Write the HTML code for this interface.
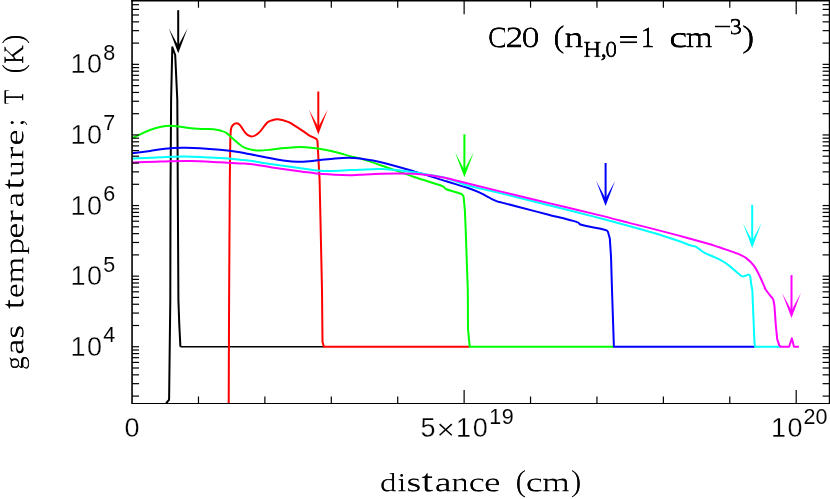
<!DOCTYPE html>
<html><head><meta charset="utf-8"><title>C20 gas temperature</title>
<style>
html,body{margin:0;padding:0;background:#fff;}
body{width:830px;height:499px;position:relative;overflow:hidden;font-family:"Liberation Sans",sans-serif;color:#000;}
svg{display:block}
text{white-space:pre}
</style></head><body>
<svg width="830" height="499" viewBox="0 0 830 499" style="position:absolute;left:0;top:0">
<rect x="0" y="0" width="830" height="499" fill="#fff"/>
<path d="M180.40 346.80 L324.00 346.80" fill="none" stroke="#000" stroke-width="1.6" stroke-linejoin="round" stroke-linecap="butt"/>
<path d="M166.00 403.50 L167.30 401.80 L168.80 400.30 L169.10 399.00 L170.30 300.00 L170.50 195.00 L171.10 100.00 L172.30 47.20 L175.20 55.00 L177.30 100.00 L178.40 300.00 L179.30 325.00 L180.40 346.80" fill="none" stroke="#000" stroke-width="2.0" stroke-linejoin="round" stroke-linecap="butt"/>
<path d="M228.70 403.50 L229.10 300.00 L229.80 180.00 L230.30 140.00 M230.30 140.00 C230.42 138.17 230.55 131.50 231.00 129.00 C231.45 126.50 232.05 125.95 233.00 125.00 C233.95 124.05 235.53 123.27 236.70 123.30 C237.87 123.33 238.62 123.68 240.00 125.20 C241.38 126.72 243.68 130.73 245.00 132.40 C246.32 134.07 246.82 134.52 247.90 135.20 C248.98 135.88 250.30 136.45 251.50 136.50 C252.70 136.55 253.68 136.32 255.10 135.50 C256.52 134.68 257.97 133.75 260.00 131.60 C262.03 129.45 265.28 124.48 267.30 122.60 C269.32 120.72 270.37 120.85 272.10 120.30 C273.83 119.75 275.03 119.03 277.70 119.30 C280.37 119.57 285.55 121.02 288.10 121.90 C290.65 122.78 290.32 122.95 293.00 124.60 C295.68 126.25 301.53 130.00 304.20 131.80 C306.87 133.60 307.13 134.32 309.00 135.40 C310.87 136.48 314.00 137.52 315.40 138.30 C316.80 139.08 317.07 139.80 317.40 140.10 M317.40 140.10 L319.60 180.00 L322.00 290.00 L322.50 342.00 L323.90 346.80 L469.70 346.80" fill="none" stroke="#f00" stroke-width="2.0" stroke-linejoin="round" stroke-linecap="butt"/>
<path d="M132.00 138.20 C133.33 137.58 137.00 135.87 140.00 134.50 C143.00 133.13 146.67 131.25 150.00 130.00 C153.33 128.75 156.67 127.72 160.00 127.00 C163.33 126.28 166.33 125.70 170.00 125.70 C173.67 125.70 178.00 126.52 182.00 127.00 C186.00 127.48 190.17 128.27 194.00 128.60 C197.83 128.93 201.77 128.90 205.00 129.00 C208.23 129.10 210.90 128.95 213.40 129.20 C215.90 129.45 217.85 129.88 220.00 130.50 C222.15 131.12 223.92 131.32 226.30 132.90 C228.68 134.48 231.63 137.73 234.30 140.00 C236.97 142.27 239.68 144.93 242.30 146.50 C244.92 148.07 247.17 148.72 250.00 149.40 C252.83 150.08 255.63 150.58 259.30 150.60 C262.97 150.62 267.72 149.93 272.00 149.50 C276.28 149.07 280.17 148.43 285.00 148.00 C289.83 147.57 295.50 146.82 301.00 146.90 C306.50 146.98 312.12 147.62 318.00 148.50 C323.88 149.38 330.97 150.93 336.30 152.20 C341.63 153.47 346.05 155.07 350.00 156.10 C353.95 157.13 354.65 156.80 360.00 158.40 C365.35 160.00 373.07 162.60 382.10 165.70 C391.13 168.80 404.30 173.65 414.20 177.00 C424.10 180.35 436.15 183.75 441.50 185.80 C446.85 187.85 443.17 188.02 446.30 189.30 C449.43 190.58 457.42 192.32 460.30 193.50 C463.18 194.68 463.05 195.92 463.60 196.40 M463.60 196.40 L464.90 211.00 L465.70 230.00 L467.80 290.00 L468.00 329.00 L469.70 346.80 L614.00 346.80" fill="none" stroke="#0f0" stroke-width="2.0" stroke-linejoin="round" stroke-linecap="butt"/>
<path d="M132.00 153.30 C135.00 152.90 144.50 151.65 150.00 150.90 C155.50 150.15 159.50 149.32 165.00 148.80 C170.50 148.28 177.17 147.90 183.00 147.80 C188.83 147.70 193.83 147.87 200.00 148.20 C206.17 148.53 213.33 149.12 220.00 149.80 C226.67 150.48 235.15 151.60 240.00 152.30 C244.85 153.00 243.57 152.92 249.10 154.00 C254.63 155.08 267.18 157.67 273.20 158.80 C279.22 159.93 281.18 160.30 285.20 160.80 C289.22 161.30 293.28 161.72 297.30 161.80 C301.32 161.88 305.52 161.58 309.30 161.30 C313.08 161.02 315.72 160.58 320.00 160.10 C324.28 159.62 330.18 158.80 335.00 158.40 C339.82 158.00 344.73 157.67 348.90 157.70 C353.07 157.73 354.48 157.80 360.00 158.60 C365.52 159.40 373.00 160.37 382.00 162.50 C391.00 164.63 403.28 168.27 414.00 171.40 C424.72 174.53 437.42 178.58 446.30 181.30 C455.18 184.02 461.80 185.85 467.30 187.70 C472.80 189.55 474.73 190.28 479.30 192.40 C483.87 194.52 490.92 198.70 494.70 200.40 C498.48 202.10 498.15 201.55 502.00 202.60 C505.85 203.65 510.35 204.77 517.80 206.70 C525.25 208.63 537.05 211.72 546.70 214.20 C556.35 216.68 570.07 219.88 575.70 221.60 C581.33 223.32 578.12 223.63 580.50 224.50 C582.88 225.37 585.98 225.92 590.00 226.80 C594.02 227.68 601.63 229.05 604.60 229.80 C607.57 230.55 607.27 231.05 607.80 231.30 M607.80 231.30 L609.80 238.50 L611.00 256.20 L611.70 280.00 L612.00 290.00 L613.90 346.80 L755.00 346.80" fill="none" stroke="#00f" stroke-width="2.0" stroke-linejoin="round" stroke-linecap="butt"/>
<path d="M132.00 158.60 C136.67 158.37 151.17 157.55 160.00 157.20 C168.83 156.85 175.00 156.37 185.00 156.50 C195.00 156.63 210.83 157.47 220.00 158.00 C229.17 158.53 235.00 159.25 240.00 159.70 C245.00 160.15 244.67 159.95 250.00 160.70 C255.33 161.45 263.50 162.95 272.00 164.20 C280.50 165.45 292.42 167.08 301.00 168.20 C309.58 169.32 315.33 170.58 323.50 170.90 C331.67 171.22 343.92 170.28 350.00 170.10 C356.08 169.92 354.67 169.98 360.00 169.80 C365.33 169.62 373.00 168.60 382.00 169.00 C391.00 169.40 404.33 170.90 414.00 172.20 C423.67 173.50 434.67 175.83 440.00 176.80 C445.33 177.77 441.50 176.60 446.00 178.00 C450.50 179.40 458.00 182.68 467.00 185.20 C476.00 187.72 486.17 189.72 500.00 193.10 C513.83 196.48 535.00 201.75 550.00 205.50 C565.00 209.25 576.67 212.15 590.00 215.60 C603.33 219.05 619.33 223.30 630.00 226.20 C640.67 229.10 646.00 230.57 654.00 233.00 C662.00 235.43 671.97 238.75 678.00 240.80 C684.03 242.85 687.35 244.37 690.20 245.30 C693.05 246.23 693.68 245.83 695.10 246.40 C696.52 246.97 697.10 247.62 698.70 248.70 C700.30 249.78 702.10 251.50 704.70 252.90 C707.30 254.30 711.08 255.58 714.30 257.10 C717.52 258.62 721.35 260.42 724.00 262.00 C726.65 263.58 727.33 264.30 730.20 266.60 C733.07 268.90 738.70 274.27 741.20 275.80 C743.70 277.33 743.97 276.00 745.20 275.80 C746.43 275.60 747.77 274.53 748.60 274.60 C749.43 274.67 749.93 275.93 750.20 276.20 M750.20 276.20 L751.20 284.20 L752.30 290.00 L754.50 343.00 L755.00 346.80 L781.00 346.80" fill="none" stroke="#0ff" stroke-width="2.0" stroke-linejoin="round" stroke-linecap="butt"/>
<path d="M132.00 162.60 C136.67 162.42 150.33 161.77 160.00 161.50 C169.67 161.23 180.00 160.87 190.00 161.00 C200.00 161.13 211.67 161.90 220.00 162.30 C228.33 162.70 235.00 163.13 240.00 163.40 C245.00 163.67 244.67 163.23 250.00 163.90 C255.33 164.57 263.50 166.15 272.00 167.40 C280.50 168.65 292.50 170.28 301.00 171.40 C309.50 172.52 314.83 173.47 323.00 174.10 C331.17 174.73 343.83 175.08 350.00 175.20 C356.17 175.32 354.67 175.03 360.00 174.80 C365.33 174.57 373.00 173.97 382.00 173.80 C391.00 173.63 406.00 173.55 414.00 173.80 C422.00 174.05 425.67 174.77 430.00 175.30 C434.33 175.83 437.33 176.55 440.00 177.00 C442.67 177.45 441.50 176.97 446.00 178.00 C450.50 179.03 458.00 180.97 467.00 183.20 C476.00 185.43 486.17 188.03 500.00 191.40 C513.83 194.77 533.33 199.40 550.00 203.40 C566.67 207.40 586.67 212.12 600.00 215.40 C613.33 218.68 621.00 220.82 630.00 223.10 C639.00 225.38 646.00 227.05 654.00 229.10 C662.00 231.15 670.00 233.25 678.00 235.40 C686.00 237.55 695.95 240.30 702.00 242.00 C708.05 243.70 710.63 244.45 714.30 245.60 C717.97 246.75 720.35 247.65 724.00 248.90 C727.65 250.15 732.50 251.57 736.20 253.10 C739.90 254.63 743.20 255.92 746.20 258.10 C749.20 260.28 751.87 263.02 754.20 266.20 C756.53 269.38 758.53 273.87 760.20 277.20 C761.87 280.53 763.23 284.07 764.20 286.20 C765.17 288.33 764.65 288.00 766.00 290.00 C767.35 292.00 771.07 296.53 772.30 298.20 C773.53 299.87 773.22 299.70 773.40 300.00 M773.40 300.00 L774.40 305.40 L775.80 325.00 L777.20 339.10 L779.30 345.40 L780.70 346.80 L789.10 346.80 L791.90 338.40 L794.00 346.80 L798.90 346.80" fill="none" stroke="#f0f" stroke-width="2.0" stroke-linejoin="round" stroke-linecap="butt"/>
<g transform="translate(178.20 53.20)" fill="#000" stroke="none"><rect x="-1" y="-43" width="2" height="38"/><path d="M0 0 L-9.4 -25 L0 -7.5 L9.4 -25 Z"/></g>
<g transform="translate(318.30 134.50)" fill="#f00" stroke="none"><rect x="-1" y="-43" width="2" height="38"/><path d="M0 0 L-9.4 -25 L0 -7.5 L9.4 -25 Z"/></g>
<g transform="translate(464.40 177.30)" fill="#0f0" stroke="none"><rect x="-1" y="-43" width="2" height="38"/><path d="M0 0 L-9.4 -25 L0 -7.5 L9.4 -25 Z"/></g>
<g transform="translate(605.60 206.00)" fill="#00f" stroke="none"><rect x="-1" y="-43" width="2" height="38"/><path d="M0 0 L-9.4 -25 L0 -7.5 L9.4 -25 Z"/></g>
<g transform="translate(752.20 247.90)" fill="#0ff" stroke="none"><rect x="-1" y="-43" width="2" height="38"/><path d="M0 0 L-9.4 -25 L0 -7.5 L9.4 -25 Z"/></g>
<g transform="translate(791.50 318.10)" fill="#f0f" stroke="none"><rect x="-1" y="-43" width="2" height="38"/><path d="M0 0 L-9.4 -25 L0 -7.5 L9.4 -25 Z"/></g>
<g stroke="#000" stroke-width="1.6" fill="none"><line x1="132.05" y1="0" x2="132.05" y2="403.50"/><line x1="829.60" y1="0" x2="829.60" y2="403.50"/><line x1="131.30" y1="0.70" x2="830" y2="0.70"/></g>
<line x1="131.30" y1="403.50" x2="830" y2="403.50" stroke="#000" stroke-width="1.2"/>
<g stroke="#000" stroke-width="1.2" fill="none"><line x1="198.47" y1="403.50" x2="198.47" y2="396.50"/><line x1="198.47" y1="0" x2="198.47" y2="7.70"/><line x1="264.88" y1="403.50" x2="264.88" y2="396.50"/><line x1="264.88" y1="0" x2="264.88" y2="7.70"/><line x1="331.30" y1="403.50" x2="331.30" y2="396.50"/><line x1="331.30" y1="0" x2="331.30" y2="7.70"/><line x1="397.71" y1="403.50" x2="397.71" y2="396.50"/><line x1="397.71" y1="0" x2="397.71" y2="7.70"/><line x1="464.13" y1="403.50" x2="464.13" y2="390.00"/><line x1="464.13" y1="0" x2="464.13" y2="14.20"/><line x1="530.54" y1="403.50" x2="530.54" y2="396.50"/><line x1="530.54" y1="0" x2="530.54" y2="7.70"/><line x1="596.96" y1="403.50" x2="596.96" y2="396.50"/><line x1="596.96" y1="0" x2="596.96" y2="7.70"/><line x1="663.37" y1="403.50" x2="663.37" y2="396.50"/><line x1="663.37" y1="0" x2="663.37" y2="7.70"/><line x1="729.79" y1="403.50" x2="729.79" y2="396.50"/><line x1="729.79" y1="0" x2="729.79" y2="7.70"/><line x1="796.20" y1="403.50" x2="796.20" y2="390.00"/><line x1="796.20" y1="0" x2="796.20" y2="14.20"/><line x1="132.05" y1="396.10" x2="139.05" y2="396.10"/><line x1="829.60" y1="396.10" x2="822.60" y2="396.10"/><line x1="132.05" y1="383.67" x2="139.05" y2="383.67"/><line x1="829.60" y1="383.67" x2="822.60" y2="383.67"/><line x1="132.05" y1="374.84" x2="139.05" y2="374.84"/><line x1="829.60" y1="374.84" x2="822.60" y2="374.84"/><line x1="132.05" y1="368.00" x2="139.05" y2="368.00"/><line x1="829.60" y1="368.00" x2="822.60" y2="368.00"/><line x1="132.05" y1="362.41" x2="139.05" y2="362.41"/><line x1="829.60" y1="362.41" x2="822.60" y2="362.41"/><line x1="132.05" y1="357.69" x2="139.05" y2="357.69"/><line x1="829.60" y1="357.69" x2="822.60" y2="357.69"/><line x1="132.05" y1="353.59" x2="139.05" y2="353.59"/><line x1="829.60" y1="353.59" x2="822.60" y2="353.59"/><line x1="132.05" y1="349.98" x2="139.05" y2="349.98"/><line x1="829.60" y1="349.98" x2="822.60" y2="349.98"/><line x1="132.05" y1="346.75" x2="139.05" y2="346.75"/><line x1="829.60" y1="346.75" x2="822.60" y2="346.75"/><line x1="132.05" y1="325.50" x2="139.05" y2="325.50"/><line x1="829.60" y1="325.50" x2="822.60" y2="325.50"/><line x1="132.05" y1="313.07" x2="139.05" y2="313.07"/><line x1="829.60" y1="313.07" x2="822.60" y2="313.07"/><line x1="132.05" y1="304.24" x2="139.05" y2="304.24"/><line x1="829.60" y1="304.24" x2="822.60" y2="304.24"/><line x1="132.05" y1="297.40" x2="139.05" y2="297.40"/><line x1="829.60" y1="297.40" x2="822.60" y2="297.40"/><line x1="132.05" y1="291.81" x2="139.05" y2="291.81"/><line x1="829.60" y1="291.81" x2="822.60" y2="291.81"/><line x1="132.05" y1="287.09" x2="139.05" y2="287.09"/><line x1="829.60" y1="287.09" x2="822.60" y2="287.09"/><line x1="132.05" y1="282.99" x2="139.05" y2="282.99"/><line x1="829.60" y1="282.99" x2="822.60" y2="282.99"/><line x1="132.05" y1="279.38" x2="139.05" y2="279.38"/><line x1="829.60" y1="279.38" x2="822.60" y2="279.38"/><line x1="132.05" y1="276.15" x2="139.05" y2="276.15"/><line x1="829.60" y1="276.15" x2="822.60" y2="276.15"/><line x1="132.05" y1="254.90" x2="139.05" y2="254.90"/><line x1="829.60" y1="254.90" x2="822.60" y2="254.90"/><line x1="132.05" y1="242.47" x2="139.05" y2="242.47"/><line x1="829.60" y1="242.47" x2="822.60" y2="242.47"/><line x1="132.05" y1="233.64" x2="139.05" y2="233.64"/><line x1="829.60" y1="233.64" x2="822.60" y2="233.64"/><line x1="132.05" y1="226.80" x2="139.05" y2="226.80"/><line x1="829.60" y1="226.80" x2="822.60" y2="226.80"/><line x1="132.05" y1="221.21" x2="139.05" y2="221.21"/><line x1="829.60" y1="221.21" x2="822.60" y2="221.21"/><line x1="132.05" y1="216.49" x2="139.05" y2="216.49"/><line x1="829.60" y1="216.49" x2="822.60" y2="216.49"/><line x1="132.05" y1="212.39" x2="139.05" y2="212.39"/><line x1="829.60" y1="212.39" x2="822.60" y2="212.39"/><line x1="132.05" y1="208.78" x2="139.05" y2="208.78"/><line x1="829.60" y1="208.78" x2="822.60" y2="208.78"/><line x1="132.05" y1="205.55" x2="139.05" y2="205.55"/><line x1="829.60" y1="205.55" x2="822.60" y2="205.55"/><line x1="132.05" y1="184.30" x2="139.05" y2="184.30"/><line x1="829.60" y1="184.30" x2="822.60" y2="184.30"/><line x1="132.05" y1="171.87" x2="139.05" y2="171.87"/><line x1="829.60" y1="171.87" x2="822.60" y2="171.87"/><line x1="132.05" y1="163.04" x2="139.05" y2="163.04"/><line x1="829.60" y1="163.04" x2="822.60" y2="163.04"/><line x1="132.05" y1="156.20" x2="139.05" y2="156.20"/><line x1="829.60" y1="156.20" x2="822.60" y2="156.20"/><line x1="132.05" y1="150.61" x2="139.05" y2="150.61"/><line x1="829.60" y1="150.61" x2="822.60" y2="150.61"/><line x1="132.05" y1="145.89" x2="139.05" y2="145.89"/><line x1="829.60" y1="145.89" x2="822.60" y2="145.89"/><line x1="132.05" y1="141.79" x2="139.05" y2="141.79"/><line x1="829.60" y1="141.79" x2="822.60" y2="141.79"/><line x1="132.05" y1="138.18" x2="139.05" y2="138.18"/><line x1="829.60" y1="138.18" x2="822.60" y2="138.18"/><line x1="132.05" y1="134.95" x2="139.05" y2="134.95"/><line x1="829.60" y1="134.95" x2="822.60" y2="134.95"/><line x1="132.05" y1="113.70" x2="139.05" y2="113.70"/><line x1="829.60" y1="113.70" x2="822.60" y2="113.70"/><line x1="132.05" y1="101.27" x2="139.05" y2="101.27"/><line x1="829.60" y1="101.27" x2="822.60" y2="101.27"/><line x1="132.05" y1="92.44" x2="139.05" y2="92.44"/><line x1="829.60" y1="92.44" x2="822.60" y2="92.44"/><line x1="132.05" y1="85.60" x2="139.05" y2="85.60"/><line x1="829.60" y1="85.60" x2="822.60" y2="85.60"/><line x1="132.05" y1="80.01" x2="139.05" y2="80.01"/><line x1="829.60" y1="80.01" x2="822.60" y2="80.01"/><line x1="132.05" y1="75.29" x2="139.05" y2="75.29"/><line x1="829.60" y1="75.29" x2="822.60" y2="75.29"/><line x1="132.05" y1="71.19" x2="139.05" y2="71.19"/><line x1="829.60" y1="71.19" x2="822.60" y2="71.19"/><line x1="132.05" y1="67.58" x2="139.05" y2="67.58"/><line x1="829.60" y1="67.58" x2="822.60" y2="67.58"/><line x1="132.05" y1="64.35" x2="139.05" y2="64.35"/><line x1="829.60" y1="64.35" x2="822.60" y2="64.35"/><line x1="132.05" y1="43.10" x2="139.05" y2="43.10"/><line x1="829.60" y1="43.10" x2="822.60" y2="43.10"/><line x1="132.05" y1="30.67" x2="139.05" y2="30.67"/><line x1="829.60" y1="30.67" x2="822.60" y2="30.67"/><line x1="132.05" y1="21.84" x2="139.05" y2="21.84"/><line x1="829.60" y1="21.84" x2="822.60" y2="21.84"/><line x1="132.05" y1="15.00" x2="139.05" y2="15.00"/><line x1="829.60" y1="15.00" x2="822.60" y2="15.00"/><line x1="132.05" y1="9.41" x2="139.05" y2="9.41"/><line x1="829.60" y1="9.41" x2="822.60" y2="9.41"/><line x1="132.05" y1="4.69" x2="139.05" y2="4.69"/><line x1="829.60" y1="4.69" x2="822.60" y2="4.69"/></g>
<g fill="#000" opacity="0.999" font-family="Liberation Serif"><text x="78.00 94.45" y="355.75" font-family="Liberation Sans" font-size="27" text-anchor="middle" stroke="#fff" stroke-width="0.3">10</text>
<text x="109.30" y="342.15" font-family="Liberation Sans" font-size="21.5" text-anchor="middle" stroke="#fff" stroke-width="0.05">4</text>
<text x="78.00 94.45" y="285.15" font-family="Liberation Sans" font-size="27" text-anchor="middle" stroke="#fff" stroke-width="0.3">10</text>
<text x="109.30" y="271.55" font-family="Liberation Sans" font-size="21.5" text-anchor="middle" stroke="#fff" stroke-width="0.05">5</text>
<text x="78.00 94.45" y="214.55" font-family="Liberation Sans" font-size="27" text-anchor="middle" stroke="#fff" stroke-width="0.3">10</text>
<text x="109.30" y="200.95" font-family="Liberation Sans" font-size="21.5" text-anchor="middle" stroke="#fff" stroke-width="0.05">6</text>
<text x="78.00 94.45" y="143.95" font-family="Liberation Sans" font-size="27" text-anchor="middle" stroke="#fff" stroke-width="0.3">10</text>
<text x="109.30" y="130.35" font-family="Liberation Sans" font-size="21.5" text-anchor="middle" stroke="#fff" stroke-width="0.05">7</text>
<text x="78.00 94.45" y="73.35" font-family="Liberation Sans" font-size="27" text-anchor="middle" stroke="#fff" stroke-width="0.3">10</text>
<text x="109.30" y="59.75" font-family="Liberation Sans" font-size="21.5" text-anchor="middle" stroke="#fff" stroke-width="0.05">8</text>
<text x="132.10" y="437.00" font-family="Liberation Sans" font-size="27" text-anchor="middle" stroke="#fff" stroke-width="0.3">0</text>
<text x="427.90 463.40 480.20" y="437.00" font-family="Liberation Sans" font-size="27" text-anchor="middle" stroke="#fff" stroke-width="0.3">510</text>
<path d="M439.6 424.1 L451.8 435.3 M451.8 424.1 L439.6 435.3" stroke="#000" stroke-width="1.5" fill="none"/>
<text x="495.20 507.70" y="423.70" font-family="Liberation Sans" font-size="21.5" text-anchor="middle" stroke="#fff" stroke-width="0.05">19</text>
<text x="778.50 795.00" y="437.00" font-family="Liberation Sans" font-size="27" text-anchor="middle" stroke="#fff" stroke-width="0.3">10</text>
<text x="809.60 821.50" y="423.70" font-family="Liberation Sans" font-size="21.5" text-anchor="middle" stroke="#fff" stroke-width="0.05">20</text>
<defs><g id="dx"><text transform="translate(380.20 491.40) rotate(0.06) scale(1.269 0.965)" font-size="27">d</text>
<text transform="translate(397.39 491.40) rotate(0.06) scale(1.312 0.965)" font-size="27">i</text>
<text transform="translate(406.83 491.40) rotate(0.06) scale(1.458 1.000)" font-size="27">s</text>
<text transform="translate(421.86 491.40) rotate(0.06) scale(1.637 1.190)" font-size="27">t</text>
<text transform="translate(434.94 491.40) rotate(0.06) scale(1.444 1.000)" font-size="27">a</text>
<text transform="translate(451.49 491.40) rotate(0.06) scale(1.337 1.000)" font-size="27">n</text>
<text transform="translate(468.89 491.40) rotate(0.06) scale(1.393 1.000)" font-size="27">c</text>
<text transform="translate(484.36 491.40) rotate(0.06) scale(1.421 1.000)" font-size="27">e</text>
<text transform="translate(515.78 491.40) rotate(0.06) scale(1.249 1.150)" font-size="27">(</text>
<text transform="translate(525.91 491.40) rotate(0.06) scale(1.472 1.000)" font-size="27">c</text>
<text transform="translate(542.38 491.40) rotate(0.06) scale(1.327 1.000)" font-size="27">m</text>
<text transform="translate(571.01 491.40) rotate(0.06) scale(1.237 1.150)" font-size="27">)</text></g></defs>
<clipPath id="cx"><text transform="translate(0.00 -0.00) translate(379.20 491.40) rotate(0.06) scale(1.269 0.965)" font-size="27">d</text>
<text transform="translate(0.00 -0.00) translate(396.39 491.40) rotate(0.06) scale(1.312 0.965)" font-size="27">i</text>
<text transform="translate(0.00 -0.00) translate(405.83 491.40) rotate(0.06) scale(1.458 1.000)" font-size="27">s</text>
<text transform="translate(0.00 -0.00) translate(420.86 491.40) rotate(0.06) scale(1.637 1.190)" font-size="27">t</text>
<text transform="translate(0.00 -0.00) translate(433.94 491.40) rotate(0.06) scale(1.444 1.000)" font-size="27">a</text>
<text transform="translate(0.00 -0.00) translate(450.49 491.40) rotate(0.06) scale(1.337 1.000)" font-size="27">n</text>
<text transform="translate(0.00 -0.00) translate(467.89 491.40) rotate(0.06) scale(1.393 1.000)" font-size="27">c</text>
<text transform="translate(0.00 -0.00) translate(483.36 491.40) rotate(0.06) scale(1.421 1.000)" font-size="27">e</text>
<text transform="translate(0.00 -0.00) translate(514.78 491.40) rotate(0.06) scale(1.249 1.150)" font-size="27">(</text>
<text transform="translate(0.00 -0.00) translate(524.91 491.40) rotate(0.06) scale(1.472 1.000)" font-size="27">c</text>
<text transform="translate(0.00 -0.00) translate(541.38 491.40) rotate(0.06) scale(1.327 1.000)" font-size="27">m</text>
<text transform="translate(0.00 -0.00) translate(570.01 491.40) rotate(0.06) scale(1.237 1.150)" font-size="27">)</text>
<text transform="translate(0.00 -0.50) translate(379.20 491.40) rotate(0.06) scale(1.269 0.965)" font-size="27">d</text>
<text transform="translate(0.00 -0.50) translate(396.39 491.40) rotate(0.06) scale(1.312 0.965)" font-size="27">i</text>
<text transform="translate(0.00 -0.50) translate(405.83 491.40) rotate(0.06) scale(1.458 1.000)" font-size="27">s</text>
<text transform="translate(0.00 -0.50) translate(420.86 491.40) rotate(0.06) scale(1.637 1.190)" font-size="27">t</text>
<text transform="translate(0.00 -0.50) translate(433.94 491.40) rotate(0.06) scale(1.444 1.000)" font-size="27">a</text>
<text transform="translate(0.00 -0.50) translate(450.49 491.40) rotate(0.06) scale(1.337 1.000)" font-size="27">n</text>
<text transform="translate(0.00 -0.50) translate(467.89 491.40) rotate(0.06) scale(1.393 1.000)" font-size="27">c</text>
<text transform="translate(0.00 -0.50) translate(483.36 491.40) rotate(0.06) scale(1.421 1.000)" font-size="27">e</text>
<text transform="translate(0.00 -0.50) translate(514.78 491.40) rotate(0.06) scale(1.249 1.150)" font-size="27">(</text>
<text transform="translate(0.00 -0.50) translate(524.91 491.40) rotate(0.06) scale(1.472 1.000)" font-size="27">c</text>
<text transform="translate(0.00 -0.50) translate(541.38 491.40) rotate(0.06) scale(1.327 1.000)" font-size="27">m</text>
<text transform="translate(0.00 -0.50) translate(570.01 491.40) rotate(0.06) scale(1.237 1.150)" font-size="27">)</text></clipPath>
<g clip-path="url(#cx)"><use href="#dx" x="0.00" y="-0.00"/><use href="#dx" x="0.00" y="-0.50"/></g>
<defs><g id="dy"><text transform="translate(23.4 0) rotate(-90) translate(-369.81 0.00) rotate(0.06) scale(1.058 1.000)" font-size="27">g</text>
<text transform="translate(23.4 0) rotate(-90) translate(-354.51 0.00) rotate(0.06) scale(1.388 1.000)" font-size="27">a</text>
<text transform="translate(23.4 0) rotate(-90) translate(-338.48 0.00) rotate(0.06) scale(1.375 1.000)" font-size="27">s</text>
<text transform="translate(23.4 0) rotate(-90) translate(-308.88 0.00) rotate(0.06) scale(1.425 1.190)" font-size="27">t</text>
<text transform="translate(23.4 0) rotate(-90) translate(-297.86 0.00) rotate(0.06) scale(1.261 1.000)" font-size="27">e</text>
<text transform="translate(23.4 0) rotate(-90) translate(-283.09 0.00) rotate(0.06) scale(1.282 1.000)" font-size="27">m</text>
<text transform="translate(23.4 0) rotate(-90) translate(-254.31 0.00) rotate(0.06) scale(1.265 1.000)" font-size="27">p</text>
<text transform="translate(23.4 0) rotate(-90) translate(-238.59 0.00) rotate(0.06) scale(1.381 1.000)" font-size="27">e</text>
<text transform="translate(23.4 0) rotate(-90) translate(-222.59 0.00) rotate(0.06) scale(1.457 1.000)" font-size="27">r</text>
<text transform="translate(23.4 0) rotate(-90) translate(-207.18 0.00) rotate(0.06) scale(1.350 1.000)" font-size="27">a</text>
<text transform="translate(23.4 0) rotate(-90) translate(-189.21 0.00) rotate(0.06) scale(1.524 1.190)" font-size="27">t</text>
<text transform="translate(23.4 0) rotate(-90) translate(-176.83 0.00) rotate(0.06) scale(1.261 1.000)" font-size="27">u</text>
<text transform="translate(23.4 0) rotate(-90) translate(-159.21 0.00) rotate(0.06) scale(1.506 1.000)" font-size="27">r</text>
<text transform="translate(23.4 0) rotate(-90) translate(-145.30 0.00) rotate(0.06) scale(1.391 1.000)" font-size="27">e</text>
<text transform="translate(23.4 0) rotate(-90) translate(-126.27 0.00) rotate(0.06) scale(1.105 1.000)" font-size="27">;</text>
<text transform="translate(23.4 0) rotate(-90) translate(-103.92 0.00) rotate(0.06) scale(0.898 1.060)" font-size="27">T</text>
<text transform="translate(23.4 0) rotate(-90) translate(-73.24 0.00) rotate(0.06) scale(1.104 1.150)" font-size="27">(</text>
<text transform="translate(23.4 0) rotate(-90) translate(-63.71 0.00) rotate(0.06) scale(1.004 1.060)" font-size="27">K</text>
<text transform="translate(23.4 0) rotate(-90) translate(-44.02 0.00) rotate(0.06) scale(1.165 1.150)" font-size="27">)</text></g></defs>
<clipPath id="cy"><text transform="translate(-0.00 0.00) translate(23.4 0) rotate(-90) translate(-370.81 0.00) rotate(0.06) scale(1.058 1.000)" font-size="27">g</text>
<text transform="translate(-0.00 0.00) translate(23.4 0) rotate(-90) translate(-355.51 0.00) rotate(0.06) scale(1.388 1.000)" font-size="27">a</text>
<text transform="translate(-0.00 0.00) translate(23.4 0) rotate(-90) translate(-339.48 0.00) rotate(0.06) scale(1.375 1.000)" font-size="27">s</text>
<text transform="translate(-0.00 0.00) translate(23.4 0) rotate(-90) translate(-309.88 0.00) rotate(0.06) scale(1.425 1.190)" font-size="27">t</text>
<text transform="translate(-0.00 0.00) translate(23.4 0) rotate(-90) translate(-298.86 0.00) rotate(0.06) scale(1.261 1.000)" font-size="27">e</text>
<text transform="translate(-0.00 0.00) translate(23.4 0) rotate(-90) translate(-284.09 0.00) rotate(0.06) scale(1.282 1.000)" font-size="27">m</text>
<text transform="translate(-0.00 0.00) translate(23.4 0) rotate(-90) translate(-255.31 0.00) rotate(0.06) scale(1.265 1.000)" font-size="27">p</text>
<text transform="translate(-0.00 0.00) translate(23.4 0) rotate(-90) translate(-239.59 0.00) rotate(0.06) scale(1.381 1.000)" font-size="27">e</text>
<text transform="translate(-0.00 0.00) translate(23.4 0) rotate(-90) translate(-223.59 0.00) rotate(0.06) scale(1.457 1.000)" font-size="27">r</text>
<text transform="translate(-0.00 0.00) translate(23.4 0) rotate(-90) translate(-208.18 0.00) rotate(0.06) scale(1.350 1.000)" font-size="27">a</text>
<text transform="translate(-0.00 0.00) translate(23.4 0) rotate(-90) translate(-190.21 0.00) rotate(0.06) scale(1.524 1.190)" font-size="27">t</text>
<text transform="translate(-0.00 0.00) translate(23.4 0) rotate(-90) translate(-177.83 0.00) rotate(0.06) scale(1.261 1.000)" font-size="27">u</text>
<text transform="translate(-0.00 0.00) translate(23.4 0) rotate(-90) translate(-160.21 0.00) rotate(0.06) scale(1.506 1.000)" font-size="27">r</text>
<text transform="translate(-0.00 0.00) translate(23.4 0) rotate(-90) translate(-146.30 0.00) rotate(0.06) scale(1.391 1.000)" font-size="27">e</text>
<text transform="translate(-0.00 0.00) translate(23.4 0) rotate(-90) translate(-127.27 0.00) rotate(0.06) scale(1.105 1.000)" font-size="27">;</text>
<text transform="translate(-0.00 0.00) translate(23.4 0) rotate(-90) translate(-104.92 0.00) rotate(0.06) scale(0.898 1.060)" font-size="27">T</text>
<text transform="translate(-0.00 0.00) translate(23.4 0) rotate(-90) translate(-74.24 0.00) rotate(0.06) scale(1.104 1.150)" font-size="27">(</text>
<text transform="translate(-0.00 0.00) translate(23.4 0) rotate(-90) translate(-64.71 0.00) rotate(0.06) scale(1.004 1.060)" font-size="27">K</text>
<text transform="translate(-0.00 0.00) translate(23.4 0) rotate(-90) translate(-45.02 0.00) rotate(0.06) scale(1.165 1.150)" font-size="27">)</text>
<text transform="translate(-0.50 0.00) translate(23.4 0) rotate(-90) translate(-370.81 0.00) rotate(0.06) scale(1.058 1.000)" font-size="27">g</text>
<text transform="translate(-0.50 0.00) translate(23.4 0) rotate(-90) translate(-355.51 0.00) rotate(0.06) scale(1.388 1.000)" font-size="27">a</text>
<text transform="translate(-0.50 0.00) translate(23.4 0) rotate(-90) translate(-339.48 0.00) rotate(0.06) scale(1.375 1.000)" font-size="27">s</text>
<text transform="translate(-0.50 0.00) translate(23.4 0) rotate(-90) translate(-309.88 0.00) rotate(0.06) scale(1.425 1.190)" font-size="27">t</text>
<text transform="translate(-0.50 0.00) translate(23.4 0) rotate(-90) translate(-298.86 0.00) rotate(0.06) scale(1.261 1.000)" font-size="27">e</text>
<text transform="translate(-0.50 0.00) translate(23.4 0) rotate(-90) translate(-284.09 0.00) rotate(0.06) scale(1.282 1.000)" font-size="27">m</text>
<text transform="translate(-0.50 0.00) translate(23.4 0) rotate(-90) translate(-255.31 0.00) rotate(0.06) scale(1.265 1.000)" font-size="27">p</text>
<text transform="translate(-0.50 0.00) translate(23.4 0) rotate(-90) translate(-239.59 0.00) rotate(0.06) scale(1.381 1.000)" font-size="27">e</text>
<text transform="translate(-0.50 0.00) translate(23.4 0) rotate(-90) translate(-223.59 0.00) rotate(0.06) scale(1.457 1.000)" font-size="27">r</text>
<text transform="translate(-0.50 0.00) translate(23.4 0) rotate(-90) translate(-208.18 0.00) rotate(0.06) scale(1.350 1.000)" font-size="27">a</text>
<text transform="translate(-0.50 0.00) translate(23.4 0) rotate(-90) translate(-190.21 0.00) rotate(0.06) scale(1.524 1.190)" font-size="27">t</text>
<text transform="translate(-0.50 0.00) translate(23.4 0) rotate(-90) translate(-177.83 0.00) rotate(0.06) scale(1.261 1.000)" font-size="27">u</text>
<text transform="translate(-0.50 0.00) translate(23.4 0) rotate(-90) translate(-160.21 0.00) rotate(0.06) scale(1.506 1.000)" font-size="27">r</text>
<text transform="translate(-0.50 0.00) translate(23.4 0) rotate(-90) translate(-146.30 0.00) rotate(0.06) scale(1.391 1.000)" font-size="27">e</text>
<text transform="translate(-0.50 0.00) translate(23.4 0) rotate(-90) translate(-127.27 0.00) rotate(0.06) scale(1.105 1.000)" font-size="27">;</text>
<text transform="translate(-0.50 0.00) translate(23.4 0) rotate(-90) translate(-104.92 0.00) rotate(0.06) scale(0.898 1.060)" font-size="27">T</text>
<text transform="translate(-0.50 0.00) translate(23.4 0) rotate(-90) translate(-74.24 0.00) rotate(0.06) scale(1.104 1.150)" font-size="27">(</text>
<text transform="translate(-0.50 0.00) translate(23.4 0) rotate(-90) translate(-64.71 0.00) rotate(0.06) scale(1.004 1.060)" font-size="27">K</text>
<text transform="translate(-0.50 0.00) translate(23.4 0) rotate(-90) translate(-45.02 0.00) rotate(0.06) scale(1.165 1.150)" font-size="27">)</text></clipPath>
<g clip-path="url(#cy)"><use href="#dy" x="-0.00" y="0.00"/><use href="#dy" x="-0.50" y="0.00"/></g>
<defs><g id="dt"><text transform="translate(488.34 47.55) rotate(0.06) scale(0.983 1.000)" font-size="29.5">C</text>
<text transform="translate(505.52 47.55) rotate(0.06) scale(1.263 1.000)" font-size="29.5">2</text>
<text transform="translate(521.81 47.55) rotate(0.06) scale(1.260 1.000)" font-size="29.5">0</text>
<text transform="translate(553.59 47.55) rotate(0.06) scale(1.210 1.070)" font-size="29.5">(</text>
<text transform="translate(564.51 47.55) rotate(0.06) scale(1.341 1.000)" font-size="29.5">n</text>
<text transform="translate(583.13 57.25) rotate(0.06) scale(1.137 1.000)" font-size="22.5">H</text>
<text transform="translate(600.54 57.25) rotate(0.06) scale(1.259 1.000)" font-size="22.5">,</text>
<text transform="translate(605.40 57.25) rotate(0.06) scale(1.061 1.000)" font-size="22.5">0</text>
<text transform="translate(618.19 48.85) rotate(0.06) scale(1.298 0.900)" font-size="29.5">=</text>
<text transform="translate(640.44 47.55) rotate(0.06) scale(1.029 1.000)" font-size="29.5">1</text>
<text transform="translate(669.21 47.55) rotate(0.06) scale(1.437 1.000)" font-size="29.5">c</text>
<text transform="translate(686.30 47.55) rotate(0.06) scale(1.182 1.000)" font-size="29.5">m</text>
<text transform="translate(713.34 34.45) rotate(0.06) scale(1.477 1.000)" font-size="22.5">−</text>
<text transform="translate(729.71 34.45) rotate(0.06) scale(1.115 1.000)" font-size="22.5">3</text>
<text transform="translate(742.34 47.55) rotate(0.06) scale(1.316 1.070)" font-size="29.5">)</text></g></defs>
<clipPath id="ct"><text transform="translate(0.00 -0.00) translate(487.34 47.55) rotate(0.06) scale(0.983 1.000)" font-size="29.5">C</text>
<text transform="translate(0.00 -0.00) translate(504.52 47.55) rotate(0.06) scale(1.263 1.000)" font-size="29.5">2</text>
<text transform="translate(0.00 -0.00) translate(520.81 47.55) rotate(0.06) scale(1.260 1.000)" font-size="29.5">0</text>
<text transform="translate(0.00 -0.00) translate(552.59 47.55) rotate(0.06) scale(1.210 1.070)" font-size="29.5">(</text>
<text transform="translate(0.00 -0.00) translate(563.51 47.55) rotate(0.06) scale(1.341 1.000)" font-size="29.5">n</text>
<text transform="translate(0.00 -0.00) translate(582.68 57.25) rotate(0.06) scale(1.137 1.000)" font-size="22.5">H</text>
<text transform="translate(0.00 -0.00) translate(600.09 57.25) rotate(0.06) scale(1.259 1.000)" font-size="22.5">,</text>
<text transform="translate(0.00 -0.00) translate(604.95 57.25) rotate(0.06) scale(1.061 1.000)" font-size="22.5">0</text>
<text transform="translate(0.00 -0.00) translate(617.19 48.85) rotate(0.06) scale(1.298 0.900)" font-size="29.5">=</text>
<text transform="translate(0.00 -0.00) translate(639.44 47.55) rotate(0.06) scale(1.029 1.000)" font-size="29.5">1</text>
<text transform="translate(0.00 -0.00) translate(668.21 47.55) rotate(0.06) scale(1.437 1.000)" font-size="29.5">c</text>
<text transform="translate(0.00 -0.00) translate(685.30 47.55) rotate(0.06) scale(1.182 1.000)" font-size="29.5">m</text>
<text transform="translate(0.00 -0.00) translate(712.89 34.45) rotate(0.06) scale(1.477 1.000)" font-size="22.5">−</text>
<text transform="translate(0.00 -0.00) translate(729.26 34.45) rotate(0.06) scale(1.115 1.000)" font-size="22.5">3</text>
<text transform="translate(0.00 -0.00) translate(741.34 47.55) rotate(0.06) scale(1.316 1.070)" font-size="29.5">)</text>
<text transform="translate(0.00 -0.45) translate(487.34 47.55) rotate(0.06) scale(0.983 1.000)" font-size="29.5">C</text>
<text transform="translate(0.00 -0.45) translate(504.52 47.55) rotate(0.06) scale(1.263 1.000)" font-size="29.5">2</text>
<text transform="translate(0.00 -0.45) translate(520.81 47.55) rotate(0.06) scale(1.260 1.000)" font-size="29.5">0</text>
<text transform="translate(0.00 -0.45) translate(552.59 47.55) rotate(0.06) scale(1.210 1.070)" font-size="29.5">(</text>
<text transform="translate(0.00 -0.45) translate(563.51 47.55) rotate(0.06) scale(1.341 1.000)" font-size="29.5">n</text>
<text transform="translate(0.00 -0.45) translate(582.68 57.25) rotate(0.06) scale(1.137 1.000)" font-size="22.5">H</text>
<text transform="translate(0.00 -0.45) translate(600.09 57.25) rotate(0.06) scale(1.259 1.000)" font-size="22.5">,</text>
<text transform="translate(0.00 -0.45) translate(604.95 57.25) rotate(0.06) scale(1.061 1.000)" font-size="22.5">0</text>
<text transform="translate(0.00 -0.45) translate(617.19 48.85) rotate(0.06) scale(1.298 0.900)" font-size="29.5">=</text>
<text transform="translate(0.00 -0.45) translate(639.44 47.55) rotate(0.06) scale(1.029 1.000)" font-size="29.5">1</text>
<text transform="translate(0.00 -0.45) translate(668.21 47.55) rotate(0.06) scale(1.437 1.000)" font-size="29.5">c</text>
<text transform="translate(0.00 -0.45) translate(685.30 47.55) rotate(0.06) scale(1.182 1.000)" font-size="29.5">m</text>
<text transform="translate(0.00 -0.45) translate(712.89 34.45) rotate(0.06) scale(1.477 1.000)" font-size="22.5">−</text>
<text transform="translate(0.00 -0.45) translate(729.26 34.45) rotate(0.06) scale(1.115 1.000)" font-size="22.5">3</text>
<text transform="translate(0.00 -0.45) translate(741.34 47.55) rotate(0.06) scale(1.316 1.070)" font-size="29.5">)</text>
<text transform="translate(0.00 -0.90) translate(487.34 47.55) rotate(0.06) scale(0.983 1.000)" font-size="29.5">C</text>
<text transform="translate(0.00 -0.90) translate(504.52 47.55) rotate(0.06) scale(1.263 1.000)" font-size="29.5">2</text>
<text transform="translate(0.00 -0.90) translate(520.81 47.55) rotate(0.06) scale(1.260 1.000)" font-size="29.5">0</text>
<text transform="translate(0.00 -0.90) translate(552.59 47.55) rotate(0.06) scale(1.210 1.070)" font-size="29.5">(</text>
<text transform="translate(0.00 -0.90) translate(563.51 47.55) rotate(0.06) scale(1.341 1.000)" font-size="29.5">n</text>
<text transform="translate(0.00 -0.90) translate(582.68 57.25) rotate(0.06) scale(1.137 1.000)" font-size="22.5">H</text>
<text transform="translate(0.00 -0.90) translate(600.09 57.25) rotate(0.06) scale(1.259 1.000)" font-size="22.5">,</text>
<text transform="translate(0.00 -0.90) translate(604.95 57.25) rotate(0.06) scale(1.061 1.000)" font-size="22.5">0</text>
<text transform="translate(0.00 -0.90) translate(617.19 48.85) rotate(0.06) scale(1.298 0.900)" font-size="29.5">=</text>
<text transform="translate(0.00 -0.90) translate(639.44 47.55) rotate(0.06) scale(1.029 1.000)" font-size="29.5">1</text>
<text transform="translate(0.00 -0.90) translate(668.21 47.55) rotate(0.06) scale(1.437 1.000)" font-size="29.5">c</text>
<text transform="translate(0.00 -0.90) translate(685.30 47.55) rotate(0.06) scale(1.182 1.000)" font-size="29.5">m</text>
<text transform="translate(0.00 -0.90) translate(712.89 34.45) rotate(0.06) scale(1.477 1.000)" font-size="22.5">−</text>
<text transform="translate(0.00 -0.90) translate(729.26 34.45) rotate(0.06) scale(1.115 1.000)" font-size="22.5">3</text>
<text transform="translate(0.00 -0.90) translate(741.34 47.55) rotate(0.06) scale(1.316 1.070)" font-size="29.5">)</text></clipPath>
<g clip-path="url(#ct)"><use href="#dt" x="0.00" y="-0.00"/><use href="#dt" x="0.00" y="-0.45"/><use href="#dt" x="0.00" y="-0.90"/></g></g>
</svg>
</body></html>
